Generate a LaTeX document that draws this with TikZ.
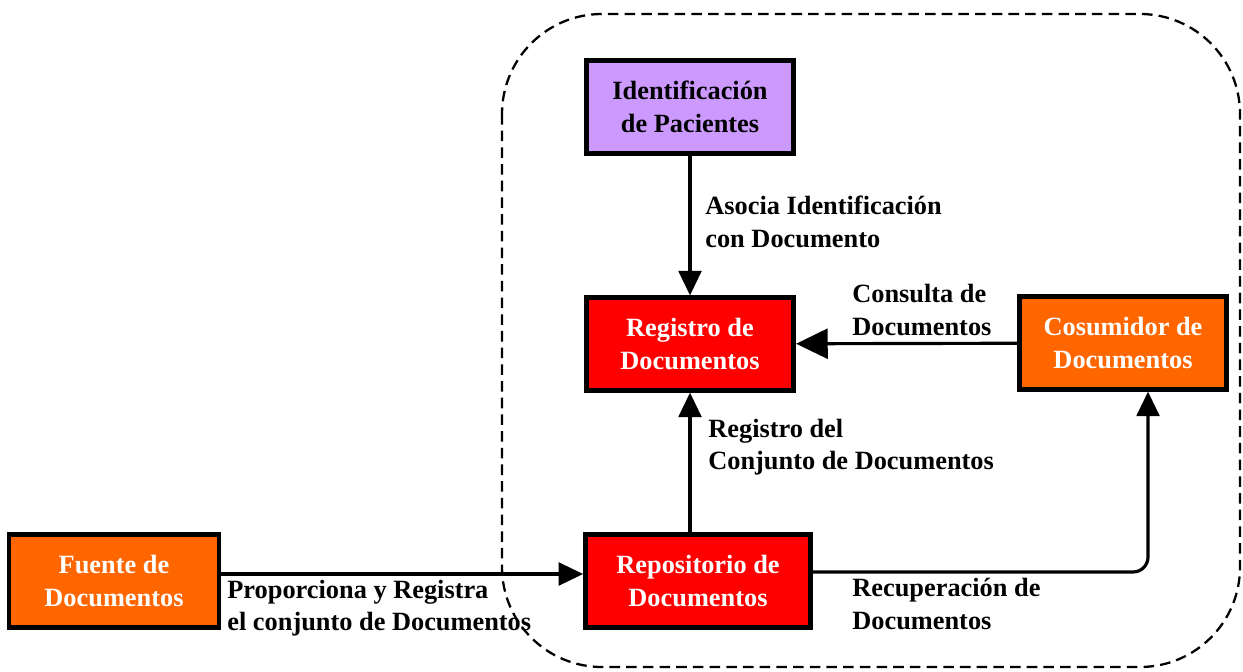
\documentclass[tikz,border=0pt]{standalone}
\usepackage{fontspec}
\setmainfont{Liberation Serif}
\usetikzlibrary{arrows.meta}
\definecolor{lila}{HTML}{CC99FF}
\definecolor{rojo}{HTML}{FF0000}
\definecolor{naranja}{HTML}{FF6600}
\begin{document}
\begin{tikzpicture}[x=0.02cm,y=-0.02cm,
    caja/.style={draw=black,line width=2.7pt,minimum width=4.15cm,minimum height=1.85cm,
      align=center,inner sep=0pt,font=\fontsize{15}{18.5}\selectfont\bfseries},
    etiqueta/.style={anchor=west,align=left,inner sep=0pt,font=\fontsize{15}{18.5}\selectfont\bfseries},
    flecha/.style={line width=1.8pt,-{Triangle[length=14pt,width=13pt]}}]
      \useasboundingbox (0,0) rectangle (1243,672) ;
      % sistema
      \draw[line width=1.3pt,dash pattern=on 6pt off 3.5pt,rounded corners=2cm] %
      (502,14) rectangle (1240,667) ;
      % actores
      \node[caja,fill=lila] (ident) at (690,107) {Identificaci\'on\\de Pacientes} ;
      \node[caja,fill=rojo,text=white] (reg) at (690,344) {Registro de\\Documentos} ;
      \node[caja,fill=naranja,text=white] (cons) at (1123,343) {Cosumidor de\\Documentos} ;
      \node[caja,fill=rojo,text=white,minimum width=4.5cm] (repo) at (698,581) {Repositorio de\\Documentos} ;
      \node[caja,fill=naranja,text=white,minimum width=4.2cm] (fuente) at (114,581) {Fuente de\\Documentos} ;
      \coordinate (pr) at (400,574) ;
      \coordinate (rec) at (1148,572) ;
      % transacciones
      \draw[flecha] (ident) -- (reg) ;
      \draw[flecha,-{Triangle[length=18pt,width=17pt]}] (cons) -- (reg) ;
      \draw[flecha] (repo.north -| reg) -- (reg) ;
      \draw[flecha] (fuente.east |- pr) -- (repo.west |- pr) ;
      \draw[flecha,rounded corners=0.3cm] (repo.east |- rec) -| (cons.south -| rec) ;
      \node[etiqueta] (asocia) at (705,222) {Asocia Identificaci\'on\\con Documento} ;
      \node[etiqueta] (consulta) at (852,310) {Consulta de\\Documentos} ;
      \node[etiqueta] (regdel) at (708,447) {Registro del\\Conjunto de Documentos} ;
      \node[etiqueta] (prop) at (227,608) {Proporciona y Registra\\el conjunto de Documentos} ;
      \node[etiqueta] (recup) at (852,604) {Recuperaci\'on de\\Documentos} ;
\end{tikzpicture}
\end{document}
